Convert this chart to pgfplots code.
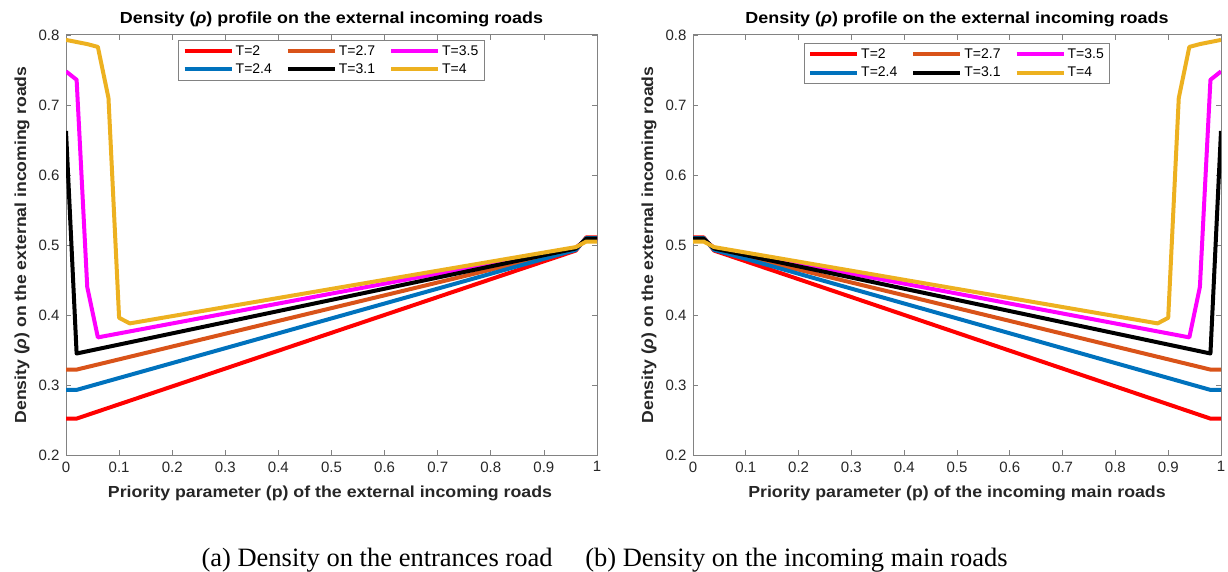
\documentclass[border=0pt]{standalone}
\usepackage{fontspec}
\setmainfont{Liberation Sans}
\newfontfamily\capfont{Liberation Serif}
\usepackage{graphicx}
\usepackage{pgfplots}
\usepackage{pgfplotstable}
\pgfplotsset{compat=1.18}
\definecolor{mred}{RGB}{255,0,0}
\definecolor{mblue}{RGB}{0,114,189}
\definecolor{morange}{RGB}{217,83,25}
\definecolor{mmag}{RGB}{255,0,255}
\definecolor{myel}{RGB}{237,177,32}
\definecolor{axgray}{RGB}{130,130,130}
\definecolor{txt}{RGB}{38,38,38}

\pgfplotstableread{
x red blue orange black mag yel
0    0.252 0.293 0.322 0.663 0.748 0.793
0.02 0.252 0.293 0.322 0.345 0.736 0.790
0.04 nan   nan   nan   nan   0.440 0.787
0.06 nan   nan   nan   nan   0.368 0.783
0.08 nan   nan   nan   nan   nan   0.710
0.10 nan   nan   nan   nan   nan   0.396
0.12 nan   nan   nan   nan   nan   0.388
0.96 0.492 0.493 0.494 0.495 0.496 0.497
0.98 0.511 0.510 0.510 0.509 0.508 0.505
1.00 0.511 0.510 0.510 0.509 0.508 0.505
}\dataL

\pgfplotstableread{
x red blue orange black mag yel
0    0.511 0.510 0.510 0.509 0.508 0.505
0.02 0.511 0.510 0.510 0.509 0.508 0.505
0.04 0.492 0.493 0.494 0.495 0.496 0.497
0.88 nan   nan   nan   nan   nan   0.388
0.90 nan   nan   nan   nan   nan   0.396
0.92 nan   nan   nan   nan   nan   0.710
0.94 nan   nan   nan   nan   0.368 0.783
0.96 nan   nan   nan   nan   0.440 0.787
0.98 0.252 0.293 0.322 0.345 0.736 0.790
1.00 0.252 0.293 0.322 0.663 0.748 0.793
}\dataR

\pgfplotsset{
  mystyle/.style={
    scale only axis, width=531pt, height=420pt,
    xmin=0, xmax=1, ymin=0.2, ymax=0.8,
    xtick={0,0.1,0.2,0.3,0.4,0.5,0.6,0.7,0.8,0.9,1},
    ytick={0.2,0.3,0.4,0.5,0.6,0.7,0.8},
    tick align=inside, major tick length=5pt,
    axis line style={draw=axgray, line width=1pt},
    tick style={draw=axgray, line width=0.8pt},
    /pgf/number format/assume math mode=true,
    ticklabel style={font=\fontsize{15}{17}\selectfont, text=txt},
    xticklabel style={yshift=-3pt},
    yticklabel style={xshift=-3pt},
    unbounded coords=discard,
    legend columns=3,
    legend cell align=left,
    legend style={font=\fontsize{14}{16}\selectfont, text=black, draw=axgray, line width=0.8pt,
      anchor=north, inner xsep=4pt, inner ysep=3pt, row sep=3pt,
      /tikz/every even column/.append style={column sep=12pt}},
    legend image code/.code={\draw[##1, line width=4pt] (0pt,0pt) -- (47pt,0pt);},
    every axis plot/.append style={line width=4pt, line join=round},
  }
}

\newcommand{\lab}[1]{\bfseries\fontsize{16}{18}\selectfont #1}
\begin{document}
\begin{tikzpicture}
\useasboundingbox (0,0) rectangle (1228pt,571pt);

\begin{axis}[mystyle, at={(66pt,116pt)}, anchor=south west,
  legend style={at={(0.5,0.988)}}]
\addplot[mred]    table[x=x,y=red]    {\dataL};
\addplot[morange] table[x=x,y=orange] {\dataL};
\addplot[mmag]    table[x=x,y=mag]    {\dataL};
\addplot[mblue]   table[x=x,y=blue]   {\dataL};
\addplot[black]   table[x=x,y=black]  {\dataL};
\addplot[myel]    table[x=x,y=yel]    {\dataL};
\legend{T=2,T=2.7,T=3.5,T=2.4,T=3.1,T=4}
\end{axis}

\begin{axis}[mystyle, at={(693pt,116pt)}, anchor=south west, width=528pt,
  legend style={at={(0.5,0.98)}}]
\addplot[mred]    table[x=x,y=red]    {\dataR};
\addplot[morange] table[x=x,y=orange] {\dataR};
\addplot[mmag]    table[x=x,y=mag]    {\dataR};
\addplot[mblue]   table[x=x,y=blue]   {\dataR};
\addplot[black]   table[x=x,y=black]  {\dataR};
\addplot[myel]    table[x=x,y=yel]    {\dataR};
\legend{T=2,T=2.7,T=3.5,T=2.4,T=3.1,T=4}
\end{axis}

% titles
\node[anchor=base, inner sep=0pt, text=black] at (331.5pt,547pt) {\scalebox{1.12}[1]{\lab{Density ({\itshape ρ}) profile on the external incoming roads}}};
\node[anchor=base, inner sep=0pt, text=black] at (957pt,547pt) {\scalebox{1.12}[1]{\lab{Density ({\itshape ρ}) profile on the external incoming roads}}};
% x labels
\node[anchor=base, inner sep=0pt, text=txt] at (330pt,74pt) {\scalebox{1.11}[1]{\lab{Priority parameter (p) of the external incoming roads}}};
\node[anchor=base, inner sep=0pt, text=txt] at (957pt,74pt) {\scalebox{1.11}[1]{\lab{Priority parameter (p) of the incoming main roads}}};
% y labels
\node[inner sep=0pt, text=txt, rotate=90] at (22pt,326pt) {\scalebox{1.1}[1]{\lab{Density ({\itshape ρ}) on the external incoming roads}}};
\node[inner sep=0pt, text=txt, rotate=90] at (649pt,326pt) {\scalebox{1.1}[1]{\lab{Density ({\itshape ρ}) on the external incoming roads}}};
% captions
\node[anchor=base, inner sep=0pt, font=\capfont\fontsize{26.5}{30}\selectfont] at (377pt,5pt) {(a) Density on the entrances road};
\node[anchor=base, inner sep=0pt, font=\capfont\fontsize{26.5}{30}\selectfont] at (796.5pt,5pt) {(b) Density on the incoming main roads};
\end{tikzpicture}
\end{document}
